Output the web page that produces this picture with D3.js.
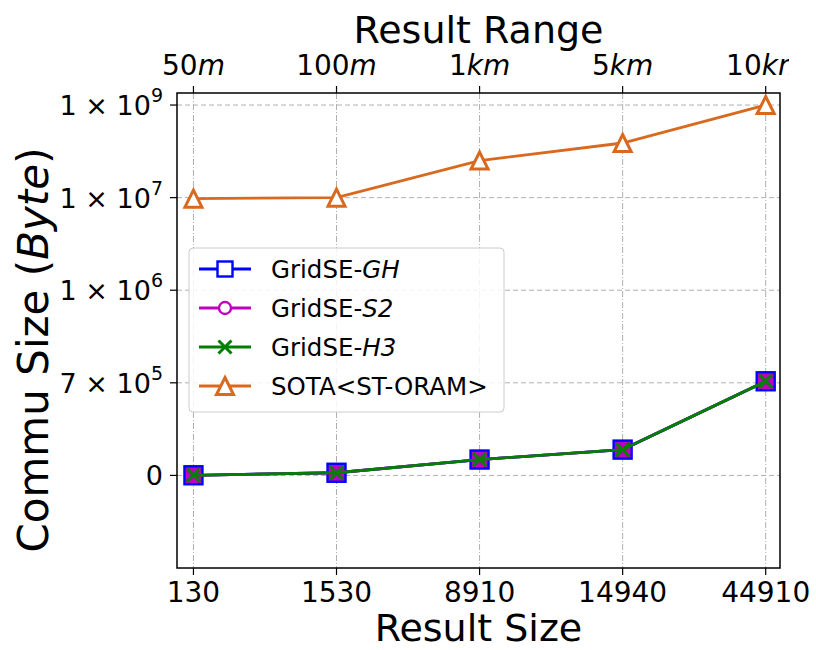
<!DOCTYPE html>
<html><head><meta charset="utf-8">
<script src="https://cdn.jsdelivr.net/npm/d3@7"></script>
<style>body{margin:0;background:#fff}svg{display:block;font-family:"DejaVu Sans",sans-serif}</style>
</head><body><svg id="c" width="816" height="650"></svg>
<script>
const categories = ["130","1530","8910","14940","44910"];
const topLabels = [["50","m"],["100","m"],["1","km"],["5","km"],["10","km"]];
const yTickValues = [0, 7e5, 1e6, 1e7, 1e9];
const yTickLabels = [["0",""],["7 × 10","5"],["1 × 10","6"],["1 × 10","7"],["1 × 10","9"]];
const gridseGH = [1000, 2.0e4, 1.2e5, 1.95e5, 7.05e5];
const gridseS2 = [1000, 2.0e4, 1.2e5, 1.95e5, 7.05e5];
const gridseH3 = [1000, 2.0e4, 1.2e5, 1.95e5, 7.05e5];
const sota = [9.9e6, 1.0e7, 4.06e8, 5.94e8, 1.0e9];

const svg = d3.select("#c");
const L=177, R=780, T=93, B=568;
const x = d3.scaleLinear().domain([-0.115, 4.1]).range([L, R]);
const toIdx = d3.scaleLinear().domain(yTickValues).range(yTickValues.map((d,i)=>i));
const yIdx = d3.scaleLinear().domain([-1, 4.13]).range([B, T]);
const y = v => yIdx(toIdx(v));

svg.append("defs").append("clipPath").attr("id","topclip")
  .append("rect").attr("x",0).attr("y",0).attr("width",789).attr("height",90);

const grid = svg.append("g");
categories.forEach((c,i)=>{
  grid.append("line").attr("x1",x(i)).attr("x2",x(i)).attr("y1",T).attr("y2",B)
    .attr("stroke","#b0b0b0").attr("stroke-width",1).attr("stroke-dasharray","6,2,1,2");
});
yTickValues.forEach(v=>{
  grid.append("line").attr("x1",L).attr("x2",R).attr("y1",y(v)).attr("y2",y(v))
    .attr("stroke","#b0b0b0").attr("stroke-width",1).attr("stroke-dasharray","5,3");
});

// ticks
const ax = svg.append("g").attr("stroke","#000").attr("stroke-width",1.2);
categories.forEach((c,i)=>{
  ax.append("line").attr("x1",x(i)).attr("x2",x(i)).attr("y1",B).attr("y2",B+7);
  ax.append("line").attr("x1",x(i)).attr("x2",x(i)).attr("y1",T).attr("y2",T-7);
});
yTickValues.forEach(v=>{
  ax.append("line").attr("x1",L).attr("x2",L-7).attr("y1",y(v)).attr("y2",y(v));
});

// bottom labels
categories.forEach((c,i)=>{
  svg.append("text").attr("x",x(i)).attr("y",602).attr("text-anchor","middle")
    .attr("font-size",28).text(c);
});
const topG = svg.append("g").attr("clip-path","url(#topclip)");
topLabels.forEach((t,i)=>{
  const tx = topG.append("text").attr("x",x(i)).attr("y",75).attr("text-anchor","middle").attr("font-size",28);
  tx.append("tspan").text(t[0]);
  tx.append("tspan").attr("font-style","italic").text(t[1]);
});
yTickLabels.forEach((t,i)=>{
  const tx = svg.append("text").attr("x",163).attr("y",y(yTickValues[i])+10).attr("text-anchor","end").attr("font-size",27);
  tx.append("tspan").text(t[0]);
  if(t[1]) tx.append("tspan").attr("font-size",19).attr("dy",-13).text(t[1]);
});

svg.append("text").attr("x",(L+R)/2).attr("y",43).attr("text-anchor","middle").attr("font-size",38).text("Result Range");
svg.append("text").attr("x",(L+R)/2).attr("y",641).attr("text-anchor","middle").attr("font-size",38).text("Result Size");
const yl = svg.append("text").attr("transform","translate(48,350) rotate(-90)").attr("text-anchor","middle").attr("font-size",42);
yl.append("tspan").text("Commu Size (");
yl.append("tspan").attr("font-style","italic").text("Byte");
yl.append("tspan").text(")");

// series
const series = [
  {name:["GridSE-","GH"], data:gridseGH, color:"#0000ff", marker:"square"},
  {name:["GridSE-","S2"], data:gridseS2, color:"#bf00bf", marker:"circle"},
  {name:["GridSE-","H3"], data:gridseH3, color:"#008000", marker:"x"},
  {name:["SOTA<ST-ORAM>",""], data:sota, color:"#d9691e", marker:"triangle"}
];
const line = d3.line().x((d,i)=>x(i)).y(d=>y(d));
function drawMarker(g, type, color, cx, cy, inPlot){
  if(type==="square"){
    const h = inPlot?9:7.5;
    g.append("rect").attr("x",cx-h).attr("y",cy-h).attr("width",2*h).attr("height",2*h)
      .attr("fill", inPlot? "#bf00bf":"#fff").attr("stroke",color).attr("stroke-width",2.4);
  } else if(type==="circle"){
    g.append("circle").attr("cx",cx).attr("cy",cy).attr("r",inPlot?5.5:6)
      .attr("fill", inPlot? "#bf00bf":"#fff").attr("stroke",color).attr("stroke-width",2.4);
  } else if(type==="x"){
    const s=6.5;
    g.append("path").attr("d",`M${cx-s},${cy-s}L${cx+s},${cy+s}M${cx-s},${cy+s}L${cx+s},${cy-s}`)
      .attr("stroke",color).attr("stroke-width",3).attr("fill","none");
  } else {
    const s=8.5;
    g.append("path").attr("d",`M${cx},${cy-s}L${cx+s},${cy+s}L${cx-s},${cy+s}Z`)
      .attr("fill","#fff").attr("stroke",color).attr("stroke-width",3).attr("stroke-linejoin","miter");
  }
}
const sg = svg.append("g");
series.forEach(s=>{
  sg.append("path").datum(s.data).attr("d",line).attr("fill","none").attr("stroke",s.color).attr("stroke-width",2.8);
  s.data.forEach((d,i)=>drawMarker(sg, s.marker, s.color, x(i), y(d), true));
});

// frame
svg.append("rect").attr("x",L).attr("y",T).attr("width",R-L).attr("height",B-T)
  .attr("fill","none").attr("stroke","#000").attr("stroke-width",1.5);

// legend
const lg = svg.append("g");
lg.append("rect").attr("x",189).attr("y",248).attr("width",315).attr("height",164).attr("rx",4)
  .attr("fill","#fff").attr("fill-opacity",0.85).attr("stroke","#cccccc").attr("stroke-width",1);
const rows=[269,308,347,386];
series.forEach((s,i)=>{
  const ry=rows[i];
  lg.append("line").attr("x1",199).attr("x2",251).attr("y1",ry).attr("y2",ry).attr("stroke",s.color).attr("stroke-width",3);
  drawMarker(lg, s.marker, s.color, 225, ry, false);
  const t = lg.append("text").attr("x",271).attr("y",ry+9).attr("font-size",24.5);
  t.append("tspan").text(s.name[0]);
  if(s.name[1]) t.append("tspan").attr("font-style","italic").text(s.name[1]);
});
</script></body></html>
